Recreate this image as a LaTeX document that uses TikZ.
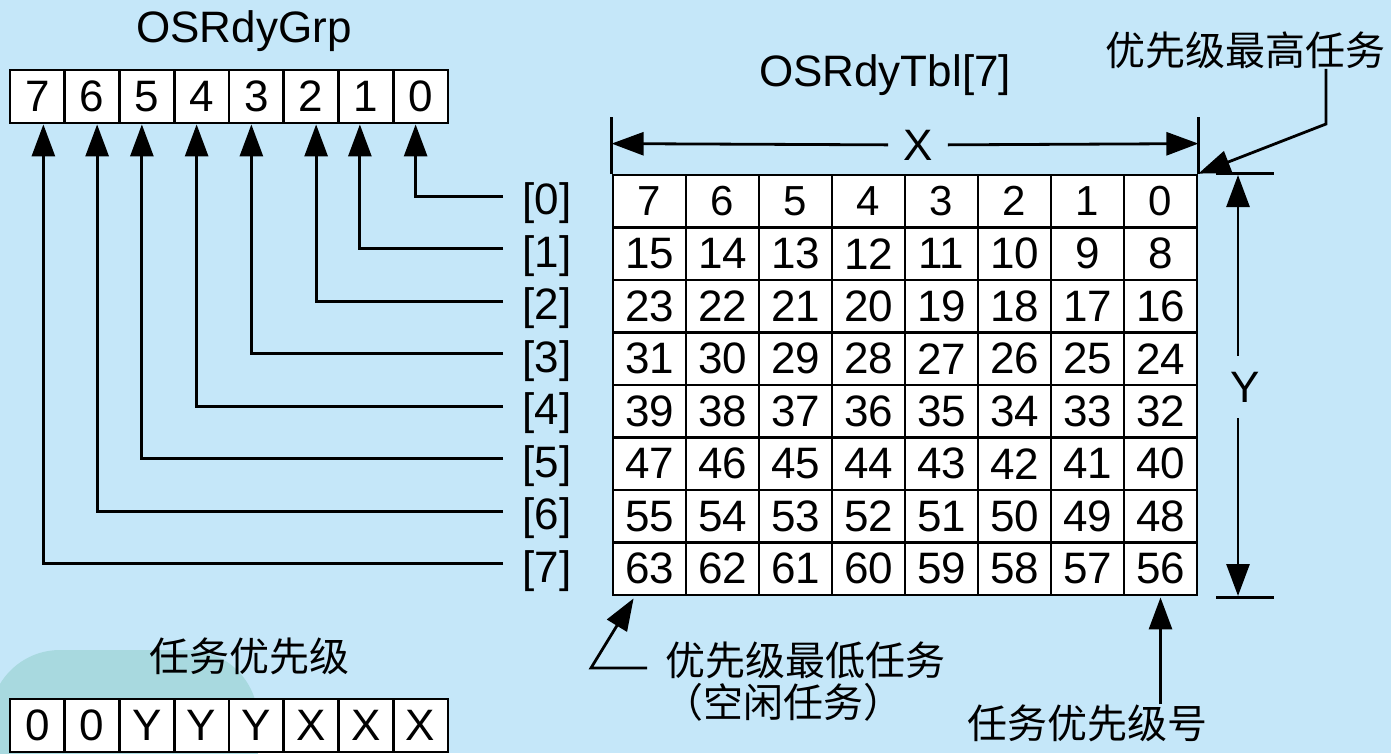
\documentclass[tikz,border=0pt]{standalone}
\usepackage{fontspec}
\usepackage{graphicx}
\setmainfont{Liberation Sans}
\newfontfamily\cjk{Noto Sans CJK SC}
\usetikzlibrary{arrows.meta,calc}
\definecolor{bgblue}{RGB}{197,231,249}
\definecolor{blob}{RGB}{168,217,223}
\tikzset{
  cell/.style={draw, line width=2.8pt, fill=white, inner sep=0pt,
    minimum width=54.75pt, minimum height=53pt, font=\fontsize{44}{44}\selectfont},
  tcell/.style={draw, line width=2.8pt, fill=white, inner sep=0pt,
    minimum width=73pt, minimum height=52.5pt, font=\fontsize{44}{44}\selectfont},
  conn/.style={line width=2.8pt, -{Triangle[length=32pt,width=23pt]}},
  ext/.style={line width=2.4pt},
  lbl/.style={font=\fontsize{44}{44}\selectfont, inner sep=0pt},
  zh/.style={font=\fontsize{40}{40}\selectfont\cjk, inner sep=0pt},
}
\begin{document}
\begin{tikzpicture}[x=1pt,y=-1pt]
\useasboundingbox (0,0) rectangle (1391,753);
\fill[bgblue] (0,0) rectangle (1391,753);
\begin{scope}
  \clip (0,0) rectangle (1391,753);
  \fill[blob, rounded corners=70pt] (-10,650) rectangle (258,820);
\end{scope}

% OSRdyGrp
\node[lbl, anchor=base] (grpT) at (244,42) {OSRdyGrp};
\foreach \b [count=\i from 0] in {7,6,5,4,3,2,1,0}
  \node[cell] (g\b) at ({10+54.75*(\i+0.5)},96.5) {\b};

% OSRdyTbl
\node[lbl, anchor=base] (tblT) at (885,86) {OSRdyTbl[7]};
\foreach \r in {0,...,7}{
  \foreach \c in {0,...,7}{
    \pgfmathtruncatemacro\v{8*\r+7-\c}
    \ifnum\r=0
      \node[tcell, font=\fontsize{42}{42}\selectfont] (t\r-\c) at ({613+73*(\c+0.5)},{175+52.5*(\r+0.5)}) {\v};
    \else
      \node[tcell] (t\r-\c) at ({613+73*(\c+0.5)},{175+52.5*(\r+0.5)}) {\v};
    \fi
  }
  \node[lbl] (L\r) at (547,{175+52.5*(\r+0.5)+2}) {[\r]};
  \coordinate (c\r) at (503,{175+52.5*(\r+0.5)-5});
}
\foreach \r/\dx in {0/-5,1/-6,2/5,3/-5,4/-5,5/-5,6/5,7/6}
  \draw[conn] (c\r) -| ([xshift=\dx pt]g\r.south);

% X dimension
\draw[ext] (t0-0.north west) -- ++(0,-57);
\draw[ext] (t0-7.north east) -- ++(0,-57);
\coordinate (xa) at ($(t0-0.north west)+(0,-30)$);
\coordinate (xb) at ($(t0-7.north east)+(0,-30)$);
\node[lbl, inner xsep=15pt] (X) at (918,145) {X};
\draw[conn] (X) -- (xa);
\draw[conn] (X) -- (xb);

% Y dimension
\draw[ext] ($(t0-7.north east)+(18,0)$) -- ++(58,0);
\draw[ext] ($(t7-7.south east)+(18,1)$) -- ++(58,0);
\coordinate (ya) at (1238,175);
\coordinate (yb) at (1238,596);
\node[lbl, inner ysep=16pt] (Y) at (1245,387) {Y};
\draw[conn] (ya |- Y.north) -- (ya);
\draw[conn] (yb |- Y.south) -- (yb);

% highest priority
\node[zh] (hi) at (1245,50) {优先级最高任务};
\coordinate (hbend) at (1326,124);
\draw[conn] (hi.south -| hbend) -- (hbend) -- (t0-7.north east);

% lowest priority
\node[zh] (lo) at (805,660) {优先级最低任务};
\node[zh] (idle) at (783,702) {（空闲任务）};
\coordinate (lstart) at (647,668);
\coordinate (lk) at (591,668);
\coordinate (ltip) at ($(t7-0.south west)+(22,2)$);
\draw[conn] (lstart) -- (lk) -- (ltip);

% priority number
\node[zh] (num) at (1087,723) {任务优先级号};
\draw[conn] (num.north -| t7-7.south) -- ([yshift=-1pt]t7-7.south);

% bottom-left
\node[zh] (prio) at (249,656) {任务优先级};
\foreach \t [count=\i from 0] in {0,0,Y,Y,Y,X,X,X}
  \node[cell] (p\i) at ({10+54.75*(\i+0.5)},725.5) {\t};
\end{tikzpicture}
\end{document}
